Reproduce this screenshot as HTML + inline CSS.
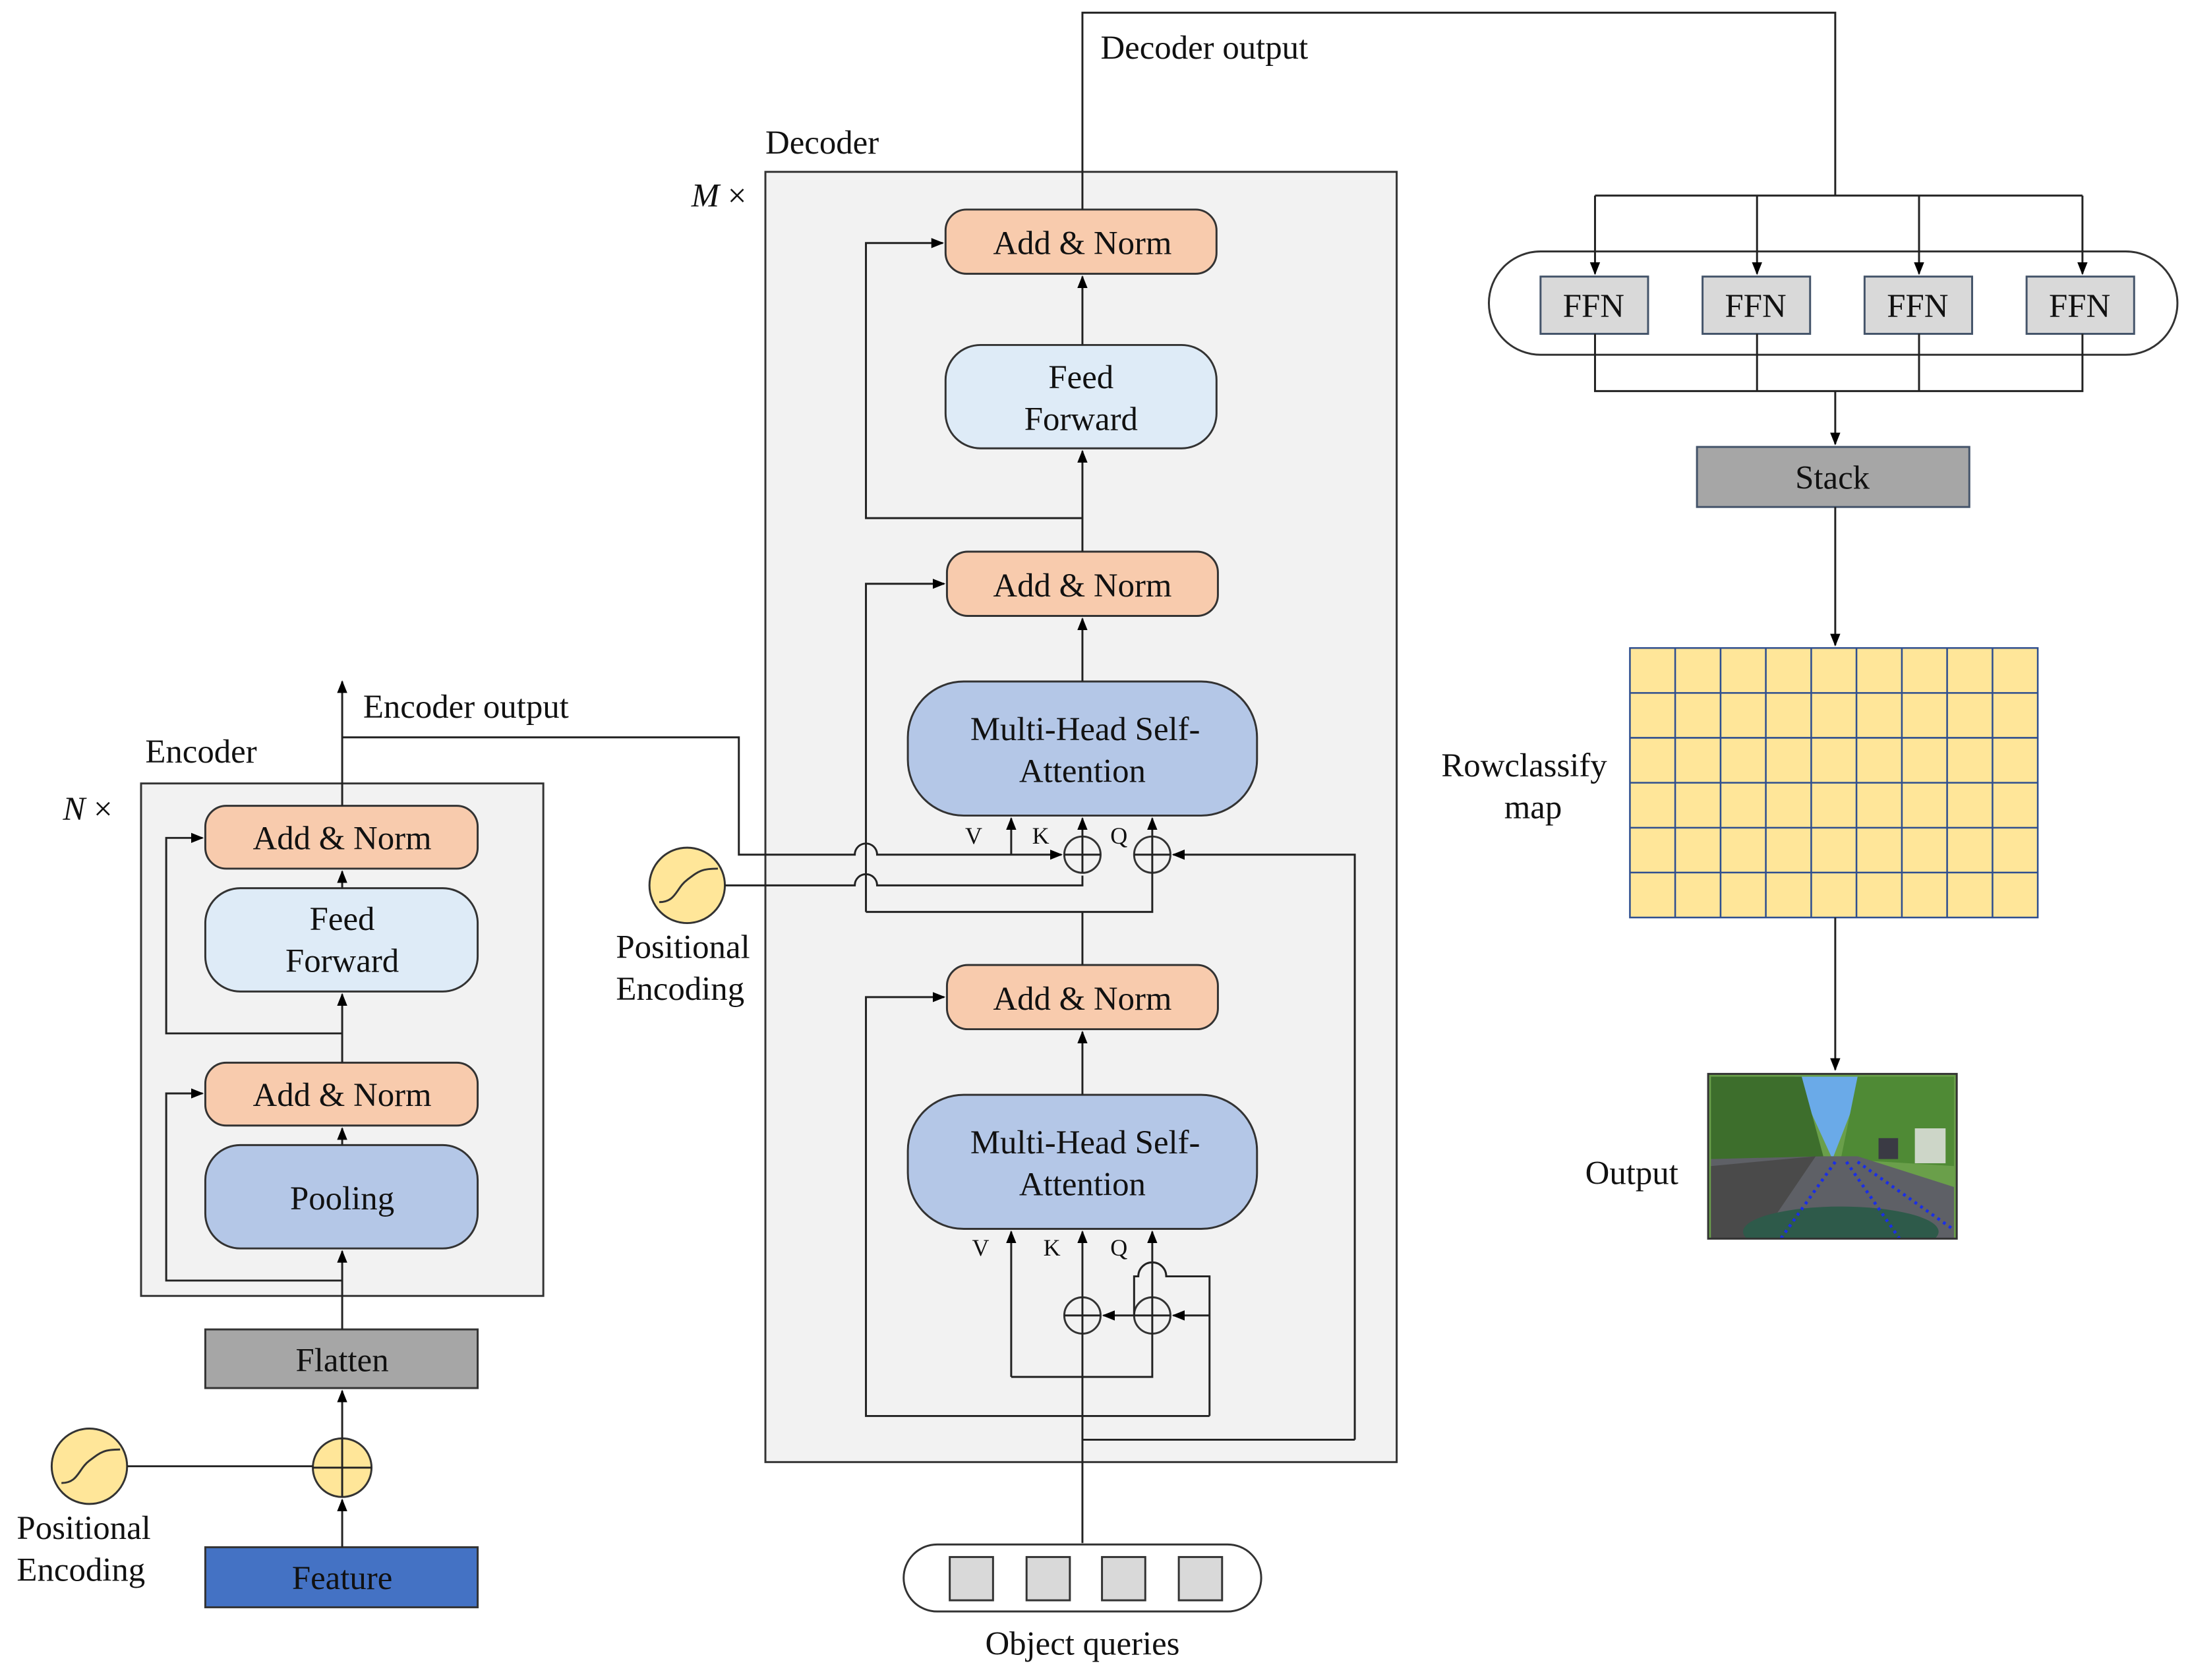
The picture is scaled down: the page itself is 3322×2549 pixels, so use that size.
<!DOCTYPE html>
<html><head><meta charset="utf-8"><style>
html,body{margin:0;padding:0;background:#fff}
svg{display:block}
</style></head><body>
<svg width="3322" height="2549" viewBox="0 0 1568 1203" xmlns="http://www.w3.org/2000/svg" font-family="'Liberation Serif', 'DejaVu Serif', serif">
<defs>
<marker id="a" viewBox="0 0 10 10" refX="9" refY="5" markerWidth="6.5" markerHeight="6.5" orient="auto-start-reverse"><path d="M0,1 L10,5 L0,9 z" fill="#000"/></marker>
<clipPath id="ic"><rect x="1223" y="769" width="178" height="118"/></clipPath>
</defs>
<g stroke="#333" stroke-width="1.4">
<rect x="101" y="561" width="288" height="367" fill="#f2f2f2"/>
<rect x="147" y="577" width="195" height="45" rx="15" fill="#f8cbad"/>
<rect x="147" y="636" width="195" height="74" rx="25" fill="#deebf7"/>
<rect x="147" y="761" width="195" height="45" rx="15" fill="#f8cbad"/>
<rect x="147" y="820" width="195" height="74" rx="25" fill="#b4c7e7"/>
<rect x="147" y="952" width="195" height="42" fill="#a6a6a6"/>
<rect x="147" y="1108" width="195" height="43" fill="#4472c4"/>
<circle cx="245" cy="1051" r="21" fill="#ffe699"/>
<circle cx="64" cy="1050" r="27" fill="#ffe699"/>
<rect x="548" y="123" width="452" height="924" fill="#f2f2f2"/>
<rect x="677" y="150" width="194" height="46" rx="15" fill="#f8cbad"/>
<rect x="677" y="247" width="194" height="74" rx="25" fill="#deebf7"/>
<rect x="678" y="395" width="194" height="46" rx="15" fill="#f8cbad"/>
<rect x="650" y="488" width="250" height="96" rx="40" fill="#b4c7e7"/>
<rect x="678" y="691" width="194" height="46" rx="15" fill="#f8cbad"/>
<rect x="650" y="784" width="250" height="96" rx="40" fill="#b4c7e7"/>
<circle cx="492" cy="634" r="27" fill="#ffe699"/>
<rect x="647" y="1106" width="256" height="48" rx="24" fill="#fff"/>
<rect x="680" y="1115" width="31" height="31" fill="#d9d9d9"/>
<rect x="735" y="1115" width="31" height="31" fill="#d9d9d9"/>
<rect x="789" y="1115" width="31" height="31" fill="#d9d9d9"/>
<rect x="844" y="1115" width="31" height="31" fill="#d9d9d9"/>
<rect x="1066" y="180" width="493" height="74" rx="37" fill="#fff"/>
<rect x="1103" y="198" width="77" height="41" fill="#d9d9d9" stroke="#44546a"/>
<rect x="1219" y="198" width="77" height="41" fill="#d9d9d9" stroke="#44546a"/>
<rect x="1335" y="198" width="77" height="41" fill="#d9d9d9" stroke="#44546a"/>
<rect x="1451" y="198" width="77" height="41" fill="#d9d9d9" stroke="#44546a"/>
<rect x="1215" y="320" width="195" height="43" fill="#a6a6a6" stroke="#44546a"/>
</g>
<g fill="none" stroke="#333" stroke-width="1.4">
<path d="M44,1062 C56,1062 56,1052 64,1046 C72,1040 74,1038 86,1038"/>
<path d="M472,646 C484,646 484,636 492,630 C500,624 502,622 514,622"/>
</g>
<g stroke="#2f4f8f" stroke-width="1.2">
<rect x="1167" y="464" width="292" height="193" fill="#ffe699"/>
<path d="M1199.4,464V657M1231.9,464V657M1264.3,464V657M1296.8,464V657M1329.2,464V657M1361.7,464V657M1394.1,464V657M1426.6,464V657M1167,496.2H1459M1167,528.3H1459M1167,560.5H1459M1167,592.7H1459M1167,624.8H1459"/>
</g>
<g fill="#f2f2f2" stroke="#333" stroke-width="1.4">
<circle cx="775" cy="612" r="13"/><circle cx="825" cy="612" r="13"/>
<circle cx="775" cy="942" r="13"/><circle cx="825" cy="942" r="13"/>
</g>
<g fill="none" stroke="#222" stroke-width="1.4">
<path d="M245,1030V1072M224,1051H266" />
<path d="M245,1108V1074" marker-end="url(#a)"/>
<path d="M245,1030V996" marker-end="url(#a)"/>
<path d="M245,952V896" marker-end="url(#a)"/>
<path d="M91,1050H224"/>
<path d="M245,917H119V783H145" marker-end="url(#a)"/>
<path d="M245,820V808" marker-end="url(#a)"/>
<path d="M245,761V712" marker-end="url(#a)"/>
<path d="M245,740H119V600H145" marker-end="url(#a)"/>
<path d="M245,636V624" marker-end="url(#a)"/>
<path d="M245,577V488" marker-end="url(#a)"/>
<path d="M245,528H529V612H612A8,8 0 0 1 628,612H760" marker-end="url(#a)"/>
<path d="M519,634H612A8,8 0 0 1 628,634H775V627"/>
<path d="M724,612V586" marker-end="url(#a)"/>
<path d="M775,599V586" marker-end="url(#a)"/>
<path d="M825,599V586" marker-end="url(#a)"/>
<path d="M762,612H788M775,599V625"/>
<path d="M812,612H838M825,599V625"/>
<path d="M970,1031V612H840" marker-end="url(#a)"/>
<path d="M775,1031H970"/>
<path d="M775,691V653M620,653H825V625"/>
<path d="M620,653V418H676" marker-end="url(#a)"/>
<path d="M775,488V443" marker-end="url(#a)"/>
<path d="M775,395V323" marker-end="url(#a)"/>
<path d="M775,371H620V174H675" marker-end="url(#a)"/>
<path d="M775,247V198" marker-end="url(#a)"/>
<path d="M775,150V9H1314V140"/>
<path d="M1142,140H1491"/>
<path d="M1142,140V196" marker-end="url(#a)"/>
<path d="M1258,140V196" marker-end="url(#a)"/>
<path d="M1374,140V196" marker-end="url(#a)"/>
<path d="M1491,140V196" marker-end="url(#a)"/>
<path d="M1142,239V280H1491V239M1258,239V280M1374,239V280"/>
<path d="M1314,280V318" marker-end="url(#a)"/>
<path d="M1314,363V462" marker-end="url(#a)"/>
<path d="M1314,657V766" marker-end="url(#a)"/>
<path d="M775,1105V882" marker-end="url(#a)"/>
<path d="M762,942H788M812,942H838"/>
<path d="M724,986V882" marker-end="url(#a)"/>
<path d="M724,986H825V882" marker-end="url(#a)"/>
<path d="M866,1014V914H835A10,10 0 0 0 815,914H812V942H790" marker-end="url(#a)"/>
<path d="M866,942H840" marker-end="url(#a)"/>
<path d="M866,1014H620V714H676" marker-end="url(#a)"/>
<path d="M775,784V739" marker-end="url(#a)"/>
</g>
<g clip-path="url(#ic)">
<rect x="1223" y="769" width="178" height="118" fill="#6a9f4a"/>
<polygon points="1285,771 1335,771 1312,830" fill="#6aaae8"/>
<polygon points="1225,771 1290,771 1306,830 1225,830" fill="#3d6e2c"/>
<polygon points="1330,771 1399,771 1399,835 1318,830" fill="#4f8a35"/>
<polygon points="1225,830 1306,828 1330,828 1399,850 1399,887 1225,887" fill="#5e6066"/>
<polygon points="1225,835 1300,828 1260,887 1225,887" fill="#4a4a4a"/>
<ellipse cx="1318" cy="882" rx="70" ry="18" fill="#2e5a4a"/>
<rect x="1371" y="808" width="22" height="25" fill="#cdd6c8"/>
<rect x="1345" y="815" width="14" height="15" fill="#3a3a44"/>
<g stroke="#1a2ee6" stroke-width="2.2" stroke-dasharray="2,3" fill="none">
<path d="M1314,832L1275,887"/><path d="M1322,832L1360,887"/><path d="M1330,832L1398,880"/>
</g>
</g>
<rect x="1223" y="769" width="178" height="118" fill="none" stroke="#333" stroke-width="1.4"/>
<g font-size="24" text-anchor="middle" fill="#111">
<text x="245" y="608">Add &amp; Norm</text>
<text x="245" y="666">Feed</text><text x="245" y="696">Forward</text>
<text x="245" y="792">Add &amp; Norm</text>
<text x="245" y="866">Pooling</text>
<text x="245" y="982">Flatten</text>
<text x="245" y="1138">Feature</text>
<text x="775" y="182">Add &amp; Norm</text>
<text x="774" y="278">Feed</text><text x="774" y="308">Forward</text>
<text x="775" y="427">Add &amp; Norm</text>
<text x="777" y="530">Multi-Head Self-</text><text x="775" y="560">Attention</text>
<text x="775" y="723">Add &amp; Norm</text>
<text x="777" y="826">Multi-Head Self-</text><text x="775" y="856">Attention</text>
<text x="775" y="1185">Object queries</text>
<text x="1141" y="227">FFN</text><text x="1257" y="227">FFN</text><text x="1373" y="227">FFN</text><text x="1489" y="227">FFN</text>
<text x="1312" y="350">Stack</text>
</g>
<g font-size="24" fill="#111">
<text x="104" y="546">Encoder</text>
<text x="45" y="587"><tspan font-style="italic">N</tspan> ×</text>
<text x="260" y="514">Encoder output</text>
<text x="12" y="1102">Positional</text><text x="12" y="1132">Encoding</text>
<text x="441" y="686">Positional</text><text x="441" y="716">Encoding</text>
<text x="548" y="110">Decoder</text>
<text x="495" y="148"><tspan font-style="italic">M</tspan> ×</text>
<text x="788" y="42">Decoder output</text>
<text x="1032" y="556">Rowclassify</text><text x="1077" y="586">map</text>
<text x="1135" y="848">Output</text>
</g>
<g font-size="17" fill="#111">
<text x="691" y="604">V</text><text x="739" y="604">K</text><text x="795" y="604">Q</text>
<text x="696" y="899">V</text><text x="747" y="899">K</text><text x="795" y="899">Q</text>
</g>
</svg>
</body></html>
